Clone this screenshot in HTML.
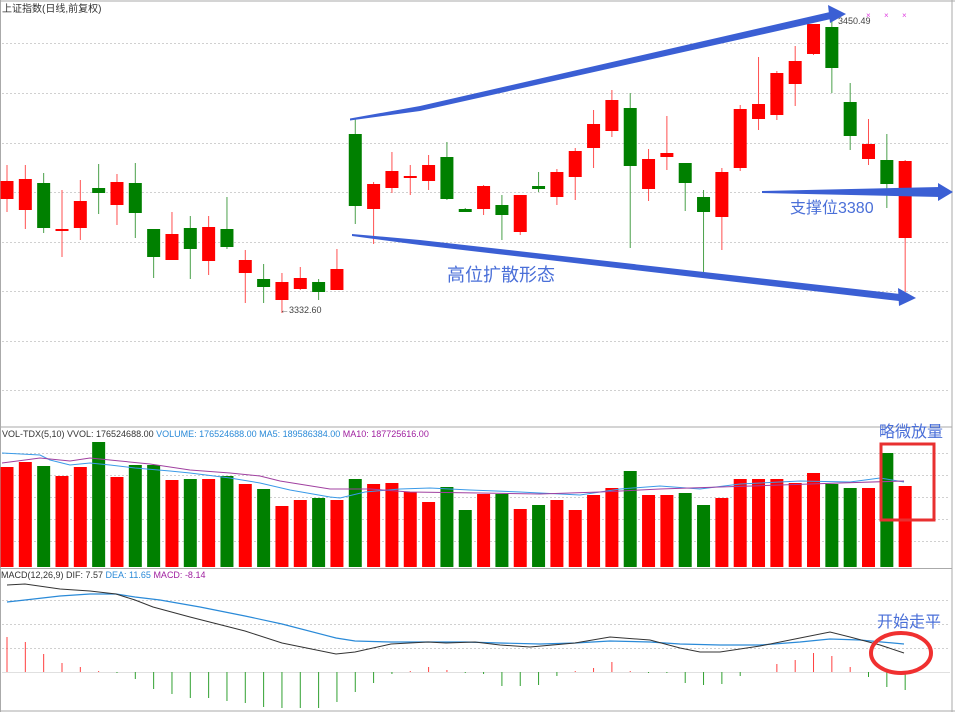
<!DOCTYPE html>
<html><head><meta charset="utf-8"><style>
html,body{margin:0;padding:0;background:#fff;}
svg{display:block;font-family:"Liberation Sans","Noto Sans CJK SC",sans-serif;}
</style></head><body>
<svg id="s" width="955" height="712" viewBox="0 0 955 712" xmlns="http://www.w3.org/2000/svg">
<rect x="0" y="0" width="955" height="712" fill="#fff"/>
<g id="grid" stroke="#d0d0d0" stroke-dasharray="2,2" stroke-width="1"></g>
<line x1="0" y1="1" x2="955" y2="1" stroke="#aaa"/>
<line x1="952" y1="0" x2="952" y2="712" stroke="#aaa"/>
<line x1="0.5" y1="0" x2="0.5" y2="712" stroke="#aaa"/>
<line x1="0" y1="427" x2="952" y2="427" stroke="#aaa"/>
<line x1="0" y1="568.5" x2="952" y2="568.5" stroke="#aaa"/>
<line x1="0" y1="711" x2="955" y2="711" stroke="#aaa"/>
<g id="c"></g>
<g id="v"></g>
<g id="m"></g>
<text x="2" y="12" font-size="10" fill="#333">上证指数(日线,前复权)</text>
<text x="2" y="437" font-size="9" fill="#333">VOL-TDX(5,10) VVOL: 176524688.00 <tspan fill="#2a8ad8">VOLUME: 176524688.00 MA5: 189586384.00</tspan> <tspan fill="#a020a0">MA10: 187725616.00</tspan></text>
<text x="1" y="578" font-size="9" fill="#333">MACD(12,26,9) DIF: 7.57 <tspan fill="#2a8ad8">DEA: 11.65</tspan> <tspan fill="#a020a0">MACD: -8.14</tspan></text>
<text x="280" y="313" font-size="9" fill="#444">←3332.60</text>
<text x="838" y="24" font-size="9" fill="#444">3450.49</text>
<g fill="#e040e0" font-size="8"><text x="866" y="18">×</text><text x="884" y="18">×</text><text x="902" y="18">×</text></g>
<!-- annotations -->
<g fill="#3b5fd4" stroke="none">
<polygon points="350,118.5 420,106 830,12 831,19 420,111 350,120.5"/>
<polygon points="828,5 846,14 830,23"/>
<polygon points="352,234 420,240 900,294 899,301 420,245 352,236"/>
<polygon points="898,288 916,298 899,306"/>
<polygon points="762,191 940,187 940,197 762,193"/>
<polygon points="938,183 953,192 938,201"/>
</g>
<text x="447" y="281" font-size="18" fill="#4a6fd8">高位扩散形态</text>
<text x="790" y="213" font-size="16" fill="#4a6fd8">支撑位3380</text>
<text x="879" y="437" font-size="16" fill="#4a6fd8">略微放量</text>
<rect x="881" y="444" width="53" height="76" fill="none" stroke="#e83030" stroke-width="3"/>
<text x="877" y="627" font-size="16" fill="#4a6fd8">开始走平</text>
<ellipse cx="901" cy="653" rx="30" ry="20" fill="none" stroke="#f03030" stroke-width="4"/>
</svg>
<script>
var NS="http://www.w3.org/2000/svg";
function el(p,t,a){var e=document.createElementNS(NS,t);for(var k in a)e.setAttribute(k,a[k]);document.getElementById(p).appendChild(e);return e;}
[43,93,143,192,242,291,341,390,453,475,497,519,541,600,624,648].forEach(function(y){el('grid','line',{x1:2,y1:y+.5,x2:950,y2:y+.5});});
var R="#ff0000",G="#008000";
var C=[["R",181,199,165,212],["R",179,210,165,229],["G",183,228,173,233],["R",229,231,190,257],["R",201,228,180,240],["G",188,193,164,214],["R",182,205,174,225],["G",183,213,163,238],["G",229,257,229,278],["R",234,260,212,260],["G",228,249,216,279],["R",227,261,216,275],["G",229,247,197,249],["R",260,273,250,303],["G",279,287,264,303],["R",282,300,273,313],["R",278,289,267,290],["G",282,292,279,300],["R",269,290,249,290],["G",134,206,119,224],["R",184,209,182,244],["R",171,188,152,193],["R",176,178,165,195],["R",165,181,155,190],["G",157,199,142,200],["G",209,212,208,212],["R",186,209,185,215],["G",205,215,195,240],["R",195,232,195,235],["G",186,189,172,192],["R",172,197,169,205],["R",151,177,148,200],["R",124,148,110,168],["R",100,131,90,137],["G",108,166,93,248],["R",159,189,149,201],["R",153,157,116,170],["G",163,183,163,211],["G",197,212,190,272],["R",172,217,168,250],["R",109,168,105,171],["R",104,119,57,130],["R",73,115,71,120],["R",61,84,46,106],["R",24,54,24,55],["G",27,68,20,93],["G",102,136,83,150],["R",144,159,119,165],["G",160,184,134,208],["R",161,238,160,292]];
var V=[467,462,466,476,467,442,477,465,465,480,479,479,476,484,489,506,500,498,500,479,484,483,492,502,487,510,494,494,509,505,500,510,495,488,471,495,495,493,505,498,479,479,479,483,473,484,488,488,453,486];
function X(i){return 7+i*18.33;}
C.forEach(function(c,i){var x=X(i),col=c[0]=="R"?R:G,lc=c[0]=="R"?"#ff5050":"#4aa04a";
el('c','line',{x1:x,y1:c[3],x2:x,y2:c[4],stroke:lc,"stroke-width":1});
var h=Math.max(c[2]-c[1],2);el('c','rect',{x:x-6.5,y:c[1],width:13,height:h,fill:col});
el('v','rect',{x:x-6.5,y:V[i],width:13,height:567-V[i],fill:col});});
function pl(p,pts,col,w){el(p,'polyline',{points:pts.map(function(a){return a.join(',')}).join(' '),fill:"none",stroke:col,"stroke-width":w||1});}
pl('v',[[2,453],[40,455],[50,460],[70,465],[90,463],[110,465],[135,468],[170,471],[190,473],[230,478],[260,483],[290,490],[330,497],[340,498],[365,492],[400,489],[430,488],[470,490],[520,492],[580,495],[620,489],[660,486],[700,489],[740,484],[800,481],[850,482],[880,478],[904,482]],"#3a9ae8");
pl('v',[[2,463],[25,460],[40,458],[70,461],[90,458],[120,461],[150,464],[190,470],[230,473],[260,476],[280,481],[330,489],[370,489],[410,492],[480,493],[540,494],[600,492],[660,489],[720,487],[780,485],[840,483],[904,481]],"#a040a0");
var M=[637,642,654,663,667,671,673,679,689,694,698,698,701,703,707,708,708,708,702,692,683,674,671,667,670,673,674,686,686,685,676,671,668,662,671,673,673,683,685,684,676,672,664,660,653,656,667,677,687,690];
el('m','line',{x1:2,y1:672.5,x2:950,y2:672.5,stroke:"#e0e0e0"});
M.forEach(function(y,i){var x=X(i);el('m','line',{x1:x,y1:672,x2:x,y2:y,stroke:y<672?"#ff4040":"#30a030","stroke-width":1});});
pl('m',[[7,602],[25,600],[60,596],[90,594],[116,594],[135,597],[160,600],[200,607],[245,616],[282,624],[336,638],[355,641],[391,642],[428,642],[465,642],[500,643],[540,644],[575,643],[610,641],[650,642],[680,644],[720,645],[760,645],[800,642],[830,639],[860,640],[904,644]],"#2a8ad8",1.2);
pl('m',[[7,585],[25,584],[60,589],[90,591],[116,594],[135,600],[153,607],[190,617],[245,631],[282,643],[336,654],[355,652],[391,644],[428,642],[446,643],[475,642],[500,645],[530,647],[575,643],[610,637],[650,640],[680,648],[700,652],[720,652],[760,646],[800,638],[830,632],[850,637],[880,645],[904,653]],"#333",1);
</script>
</body></html>
